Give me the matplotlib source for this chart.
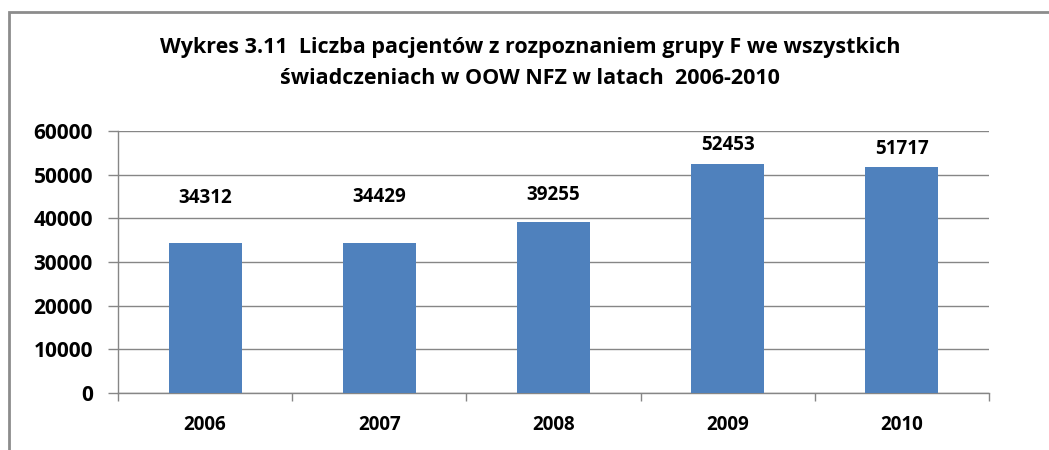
import numpy as np
import matplotlib
matplotlib.use("Agg")
import matplotlib.pyplot as plt
from matplotlib.patches import Rectangle

years = ["2006", "2007", "2008", "2009", "2010"]
patients = [34312, 34429, 39255, 52453, 51717]
# heights of the data labels as they sit in the original chart
label_y = [44700, 44800, 45300, 56700, 55800]

plt.rcParams['font.family'] = ['Open Sans', 'DejaVu Sans']

fig = plt.figure(figsize=(10.49, 4.5), dpi=100)
ax = fig.add_axes([118 / 1049, 1 - 393 / 450, (989 - 118) / 1049, (393 - 131) / 450])

x = np.arange(len(years))
ax.bar(x, patients, width=0.42, color='#4f81bd', zorder=3)

for xi, v, ly in zip(x, patients, label_y):
    ax.text(xi, ly, str(v), ha='center', va='center', fontsize=13.5,
            fontweight='bold', color='black')

ax.set_xlim(-0.5, len(years) - 0.5)
ax.set_ylim(0, 60000)
ax.set_yticks(range(0, 60001, 10000))
ax.set_yticklabels([str(t) for t in range(0, 60001, 10000)],
                   fontsize=15, fontweight='bold')
ax.set_xticks(x)
ax.set_xticklabels(years, fontsize=13.5, fontweight='bold')
ax.set_xticks(np.arange(-0.5, len(years)), minor=True)
ax.tick_params(axis='x', which='major', length=0, pad=16)
ax.tick_params(axis='x', which='minor', length=6, color='#868686', width=1, direction='out')
ax.tick_params(axis='y', length=7, color='#868686', width=1, pad=11)

ax.grid(axis='y', color='#868686', linewidth=1, zorder=0)
for s in ['top', 'right']:
    ax.spines[s].set_visible(False)
for s in ['left', 'bottom']:
    ax.spines[s].set_color('#868686')
    ax.spines[s].set_linewidth(1)

fig.text(530 / 1049, 1 - 48 / 450,
         "Wykres 3.11  Liczba pacjentów z rozpoznaniem grupy F we wszystkich",
         ha='center', va='center', fontsize=15.5, fontweight='bold')
fig.text(530 / 1049, 1 - 78 / 450,
         "świadczeniach w OOW NFZ w latach  2006-2010",
         ha='center', va='center', fontsize=15.5, fontweight='bold')

# outer frame of the original chart area
fig.add_artist(Rectangle((9 / 1049, -0.1), 1.2, 1.1 - 12 / 450,
                         transform=fig.transFigure, fill=False,
                         edgecolor='#8c8c8c', linewidth=2))

fig.savefig("out.png", dpi=100)
